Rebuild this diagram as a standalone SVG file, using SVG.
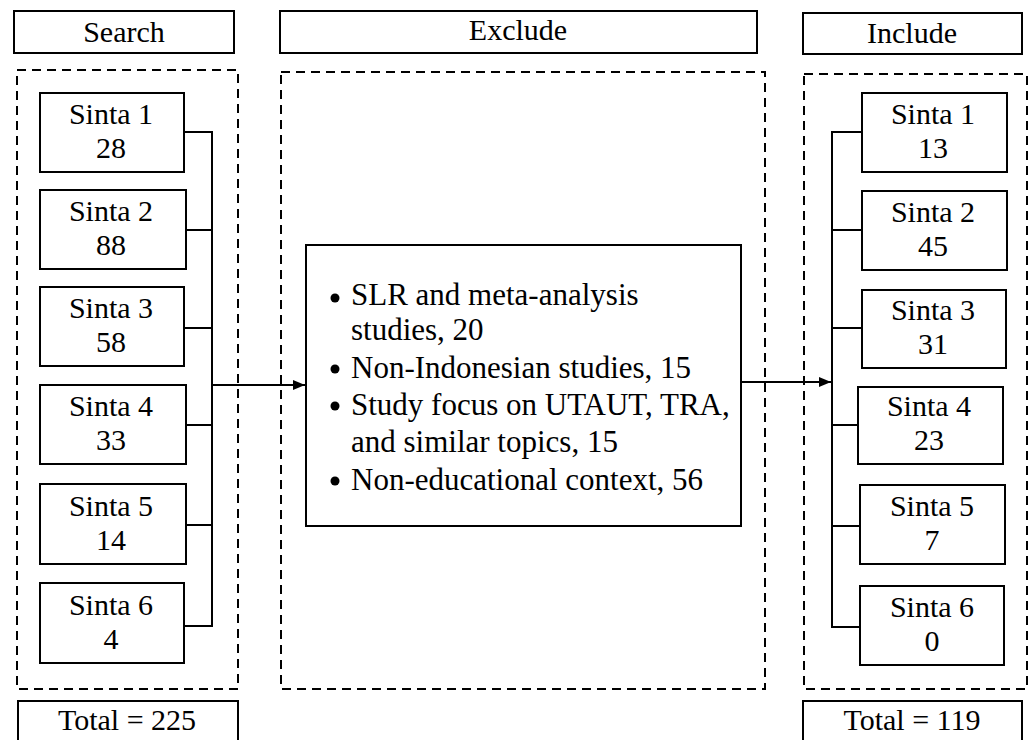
<svg xmlns="http://www.w3.org/2000/svg" width="1033" height="740" viewBox="0 0 1033 740">
<style>
text{font-family:"Liberation Serif","Times New Roman",serif;font-size:30px;fill:#000;text-anchor:middle}
.box{fill:#fff;stroke:#000;stroke-width:2}
.dash{fill:none;stroke:#000;stroke-width:2;stroke-dasharray:9,6}
.ln{fill:none;stroke:#000;stroke-width:2}
.lt{text-anchor:start;font-size:31px}
</style>
<defs>
<marker id="arr" markerWidth="12" markerHeight="10" refX="12" refY="5" orient="auto" markerUnits="userSpaceOnUse">
<path d="M0,0 L12,5 L0,10 Z" fill="#000"/>
</marker>
</defs>
<g id="frames">
<rect class="dash" x="17" y="70" width="221" height="619"/>
<rect class="dash" x="281" y="72" width="484" height="617"/>
<rect class="dash" x="804" y="74" width="223" height="615"/>
</g>
<g id="search-header"><rect class="box" x="14" y="11" width="220" height="42"/><text x="124" y="42">Search</text></g>
<g id="exclude-header"><rect class="box" x="280" y="11" width="477" height="42"/><text x="518" y="40">Exclude</text></g>
<g id="include-header"><rect class="box" x="803" y="13" width="219" height="41"/><text x="912" y="43">Include</text></g>
<g id="connectors">
<path class="ln" d="M184,132 H212 M186,230 H212 M184,328 H212 M186,425 H212 M186,525 H212 M184,626 H212 M212,131 V627"/>
<path class="ln" d="M212,385 H305" marker-end="url(#arr)"/>
<path class="ln" d="M741,382 H831" marker-end="url(#arr)"/>
<path class="ln" d="M862,132 H832 M862,230 H832 M862,328 H832 M858,425 H832 M860,526 H832 M860,627 H832 M832,131 V628"/>
</g>
<g id="s1"><rect class="box" x="40" y="93" width="144" height="79"/><text x="111" y="124">Sinta 1</text><text x="111" y="158">28</text></g>
<g id="s2"><rect class="box" x="40" y="190" width="146" height="79"/><text x="111" y="221">Sinta 2</text><text x="111" y="255">88</text></g>
<g id="s3"><rect class="box" x="40" y="287" width="144" height="79"/><text x="111" y="318">Sinta 3</text><text x="111" y="352">58</text></g>
<g id="s4"><rect class="box" x="40" y="385" width="146" height="79"/><text x="111" y="416">Sinta 4</text><text x="111" y="450">33</text></g>
<g id="s5"><rect class="box" x="40" y="484" width="146" height="80"/><text x="111" y="516">Sinta 5</text><text x="111" y="550">14</text></g>
<g id="s6"><rect class="box" x="40" y="583" width="144" height="80"/><text x="111" y="615">Sinta 6</text><text x="111" y="649">4</text></g>
<g id="exclude"><rect class="box" x="306" y="245" width="435" height="281"/>
<circle cx="335" cy="298" r="4.5"/><circle cx="335" cy="369" r="4.5"/><circle cx="335" cy="406" r="4.5"/><circle cx="335" cy="481" r="4.5"/>
<text class="lt" x="351" y="305">SLR and meta-analysis</text>
<text class="lt" x="351" y="340">studies, 20</text>
<text class="lt" x="351" y="378">Non-Indonesian studies, 15</text>
<text class="lt" x="351" y="415">Study focus on UTAUT, TRA,</text>
<text class="lt" x="351" y="452">and similar topics, 15</text>
<text class="lt" x="351" y="490">Non-educational context, 56</text>
</g>
<g id="i1"><rect class="box" x="862" y="93" width="145" height="79"/><text x="933" y="124">Sinta 1</text><text x="933" y="158">13</text></g>
<g id="i2"><rect class="box" x="862" y="191" width="145" height="79"/><text x="933" y="222">Sinta 2</text><text x="933" y="256">45</text></g>
<g id="i3"><rect class="box" x="862" y="290" width="144" height="78"/><text x="933" y="320">Sinta 3</text><text x="933" y="354">31</text></g>
<g id="i4"><rect class="box" x="858" y="387" width="145" height="77"/><text x="929" y="416">Sinta 4</text><text x="929" y="450">23</text></g>
<g id="i5"><rect class="box" x="860" y="485" width="145" height="79"/><text x="932" y="516">Sinta 5</text><text x="932" y="550">7</text></g>
<g id="i6"><rect class="box" x="860" y="586" width="144" height="79"/><text x="932" y="617">Sinta 6</text><text x="932" y="651">0</text></g>
<g id="total-left"><rect class="box" x="18" y="701" width="220" height="50"/><text x="127" y="730">Total = 225</text></g>
<g id="total-right"><rect class="box" x="803" y="701" width="219" height="50"/><text x="912" y="730">Total = 119</text></g>
</svg>
